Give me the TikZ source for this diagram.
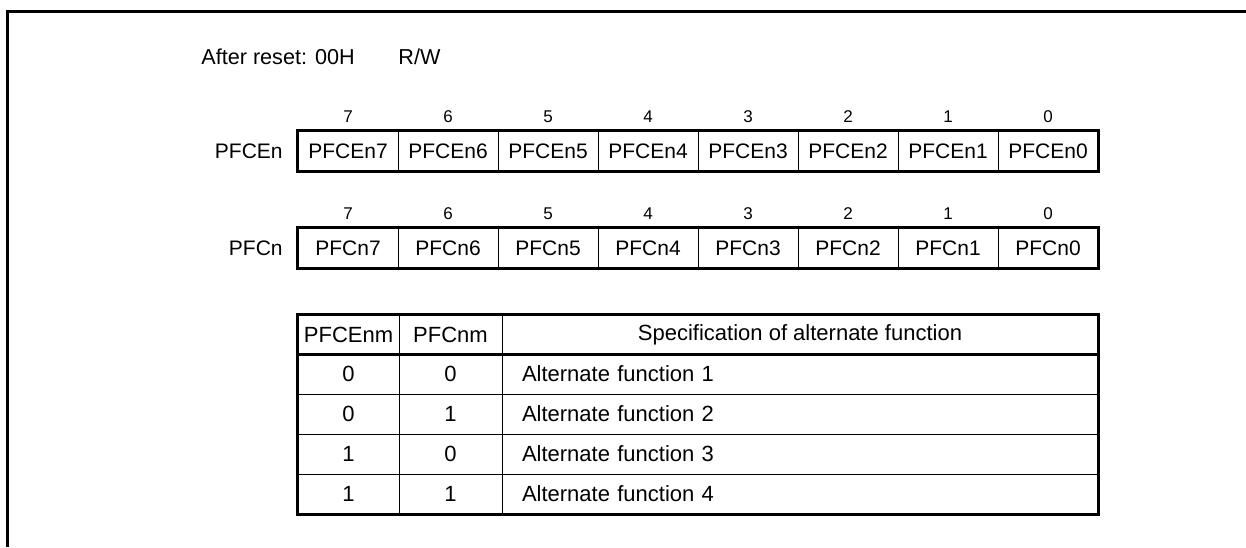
\documentclass[tikz,border=0pt]{standalone}
\usepackage{fontspec}
\setmainfont{Liberation Sans}
\tikzset{
  txt/.style={font=\fontsize{10.5}{12}\selectfont, inner sep=0pt},
  bitcell/.style={txt, draw, line width=0.5pt, rectangle, minimum width=50pt, minimum height=20pt},
  bitnum/.style={font=\fontsize{8.5}{10}\selectfont, inner sep=0pt},
  tabcell/.style={txt, font=\fontsize{11}{13}\selectfont, draw, line width=0.5pt, rectangle, minimum height=20pt},
  speccell/.style={tabcell, text width=278pt, inner xsep=10pt, align=left},
  thickline/.style={line width=1.3pt},
  frameline/.style={line width=1.5pt}
}
\begin{document}
\begin{tikzpicture}[x=0.5pt, y=-0.5pt]
\useasboundingbox (0,0) rectangle (1246,547);
\draw[frameline] (7,547) -- (7,11) -- (1246,11);

\node[txt, font=\fontsize{10.8}{12}\selectfont, anchor=west] (reset) at (201,57) {After reset: 00H};
\node[txt, font=\fontsize{10.8}{12}\selectfont, anchor=west] (rw) at (398,57) {R/W};

% PFCEn register
\node[txt, anchor=east] (lblpfce) at (283,151) {PFCEn};
\foreach \b in {7,...,0} {
  \node[bitcell] (pfce\b) at ({348+100*(7-\b)},151) {PFCEn\b};
  \node[bitnum] (nce\b) at ({348+100*(7-\b)},117) {\b};
}
\draw[thickline] (pfce7.north west) rectangle (pfce0.south east);

% PFCn register
\node[txt, anchor=east] (lblpfc) at (283,248) {PFCn};
\foreach \b in {7,...,0} {
  \node[bitcell] (pfc\b) at ({348+100*(7-\b)},248) {PFCn\b};
  \node[bitnum] (nc\b) at ({348+100*(7-\b)},214) {\b};
}
\draw[thickline] (pfc7.north west) rectangle (pfc0.south east);

% table
\node[tabcell, minimum width=50.5pt, minimum height=19.5pt] (hda) at (348.5,334.5) {PFCEnm};
\node[tabcell, minimum width=51.5pt, minimum height=19.5pt] (hdb) at (450.5,334.5) {PFCnm};
\node[tabcell, minimum width=298pt, minimum height=19.5pt] (hdc) at (800,334.5) {Specification of alternate function};
\foreach \e/\c/\f [count=\r] in {0/0/1, 0/1/2, 1/0/3, 1/1/4} {
  \node[tabcell, minimum width=50.5pt] (ra\r) at (348.5,{334+40*\r}) {\e};
  \node[tabcell, minimum width=51.5pt] (rb\r) at (450.5,{334+40*\r}) {\c};
  \node[speccell] (rc\r) at (800,{334+40*\r}) {Alternate function \f};
}
\draw[thickline] (hda.south west) -- (hdc.south east);
\draw[thickline] (hda.north west) rectangle (rc4.south east);
\end{tikzpicture}
\end{document}
